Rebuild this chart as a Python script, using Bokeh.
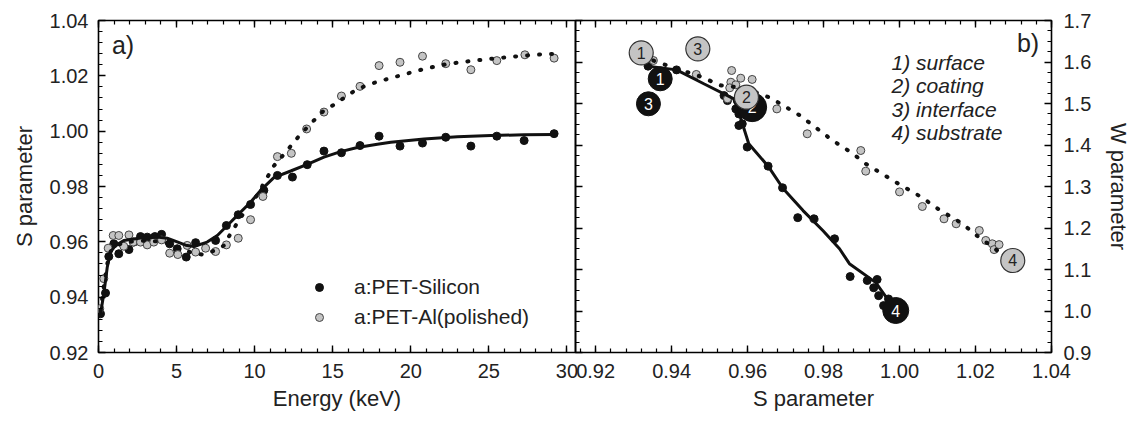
import numpy as np
from bokeh.plotting import figure
from bokeh.models import (LinearAxis, Legend, LegendItem, Label, FixedTicker,
                          Range1d, PrintfTickFormatter)
from bokeh.layouts import row
from bokeh.embed import file_html
from bokeh.resources import INLINE

FONT = "Liberation Sans"
TXT = "#222222"

# ---------------- panel a) : S parameter vs positron energy ----------------
si_E = [0.13, 0.45, 0.66, 0.98, 1.30, 1.95, 2.26, 2.69, 3.12, 3.61, 4.04, 4.56, 5.04, 5.62,
        6.22, 7.50, 8.19, 8.95, 9.74, 10.59, 11.46, 12.42, 13.37, 14.44, 15.56, 16.75,
        17.97, 19.31, 20.75, 22.24, 23.85, 25.51, 27.26, 29.18]
si_S = [0.9340, 0.9415, 0.9547, 0.9593, 0.9557, 0.9572, 0.9599, 0.9619, 0.9617, 0.9619,
        0.9627, 0.9593, 0.9575, 0.9545, 0.9597, 0.9605, 0.9659, 0.9698, 0.9735, 0.9786,
        0.9840, 0.9834, 0.9879, 0.9928, 0.9922, 0.9948, 0.9982, 0.9946, 0.9957, 0.9978,
        0.9946, 0.9982, 0.9966, 0.9991]

al_E = [0.08, 0.34, 0.62, 0.94, 1.30, 1.62, 1.95, 2.22, 2.69, 3.12, 3.54, 4.04, 4.56, 5.08,
        5.68, 6.22, 6.86, 7.50, 8.19, 8.95, 9.74, 10.53, 11.46, 12.35, 13.33, 14.44, 15.56,
        16.75, 17.97, 19.31, 20.75, 22.24, 23.85, 25.51, 27.31, 29.18]
al_S = [0.9358, 0.9467, 0.9577, 0.9623, 0.9623, 0.9584, 0.9625, 0.9599, 0.9599, 0.9589,
        0.9599, 0.9607, 0.9559, 0.9554, 0.9587, 0.9563, 0.9577, 0.9565, 0.9589, 0.9613,
        0.9680, 0.9764, 0.9908, 0.9920, 1.0008, 1.0069, 1.0127, 1.0162, 1.0237, 1.0249,
        1.0271, 1.0244, 1.0222, 1.0255, 1.0276, 1.0264]

fit_si_E = [0.13, 0.34, 0.56, 0.77, 1.09, 1.62, 2.69, 3.75, 4.40, 5.04, 5.58, 6.11, 6.96,
            7.61, 8.25, 8.99, 9.74, 10.38, 11.23, 12.31, 13.37, 14.44, 15.51, 16.58, 17.86,
            18.72, 20.85, 22.99, 25.12, 27.26, 29.18]
fit_si_S = [0.9340, 0.9412, 0.9508, 0.9563, 0.9587, 0.9605, 0.9614, 0.9617, 0.9613, 0.9600,
            0.9588, 0.9583, 0.9599, 0.9623, 0.9659, 0.9701, 0.9743, 0.9786, 0.9832, 0.9856,
            0.9880, 0.9906, 0.9926, 0.9941, 0.9953, 0.9960, 0.9972, 0.9980, 0.9984, 0.9987,
            0.9988]

fit_al_E = [0.13, 0.34, 0.56, 0.77, 1.09, 1.62, 2.69, 3.75, 4.57, 5.28, 5.89, 6.65, 7.17,
            7.71, 8.12, 8.35, 8.57, 8.93, 9.43, 9.95, 10.38, 10.59, 10.92, 11.19, 11.87,
            12.95, 13.80, 14.44, 15.19, 15.94, 16.58, 17.43, 18.72, 20.85, 22.35, 24.06,
            25.77, 27.26, 28.76, 29.22]
fit_al_S = [0.9350, 0.9440, 0.9520, 0.9565, 0.9585, 0.9598, 0.9604, 0.9602, 0.9593, 0.9578,
            0.9562, 0.9554, 0.9563, 0.9575, 0.9590, 0.9619, 0.9641, 0.9671, 0.9716, 0.9752,
            0.9786, 0.9816, 0.9843, 0.9872, 0.9916, 0.9990, 1.0039, 1.0075, 1.0099, 1.0129,
            1.0152, 1.0171, 1.0192, 1.0225, 1.0243, 1.0255, 1.0265, 1.0273, 1.0279, 1.0279]

a_xticks = [0, 5, 10, 15, 20, 25, 30]
a_yticks = [0.92, 0.94, 0.96, 0.98, 1.00, 1.02, 1.04]

# ---------------- panel b) : W parameter vs S parameter ----------------
b_si_S = [0.9338, 0.9413, 0.9538, 0.9547, 0.9573, 0.9569, 0.9577, 0.9586, 0.9577, 0.9599,
          0.9654, 0.9692, 0.9732, 0.9775, 0.9829, 0.9870, 0.9915, 0.9941, 0.9932, 0.9945,
          0.9958, 0.9971]
b_si_W = [1.590, 1.581, 1.519, 1.507, 1.507, 1.487, 1.475, 1.451, 1.447, 1.395, 1.349, 1.297,
          1.225, 1.222, 1.174, 1.083, 1.0735, 1.076, 1.056, 1.037, 1.013, 1.029]

b_al_S = [0.9352, 0.9465, 0.9558, 0.9582, 0.9612, 0.9556, 0.9569, 0.9553, 0.9547, 0.9677,
          0.9757, 0.9898, 0.9911, 1.0000, 1.0060, 1.0117, 1.0149, 1.0210, 1.0227, 1.0244,
          1.0249, 1.0262]
b_al_W = [1.6036, 1.570, 1.5795, 1.561, 1.558, 1.5513, 1.545, 1.5378, 1.5113, 1.487, 1.427,
          1.3867, 1.3369, 1.287, 1.2518, 1.2221, 1.2101, 1.194, 1.170, 1.162, 1.148, 1.160]

fitb_si_S = [0.9338, 0.9413, 0.9486, 0.9564, 0.9580, 0.9603, 0.9654, 0.9694, 0.9746, 0.9798,
             0.9842, 0.9868, 0.9937, 0.9990]
fitb_si_W = [1.590, 1.581, 1.547, 1.511, 1.470, 1.403, 1.349, 1.2945, 1.242, 1.194, 1.150,
             1.114, 1.069, 1.001]

fitb_al_S = [0.9352, 0.9413, 0.9469, 0.9530, 0.9590, 0.9660, 0.9738, 0.9824, 0.9876, 0.9911,
             0.9997, 1.0058, 1.0101, 1.0166, 1.0197, 1.0240, 1.0257]
fitb_al_W = [1.6036, 1.5836, 1.5675, 1.5434, 1.5378, 1.5137, 1.4711, 1.4108, 1.380, 1.3547,
             1.3065, 1.2742, 1.2462, 1.2101, 1.186, 1.1578, 1.1458]

lab_si_S = [0.9370, 0.9612, 0.9339, 0.9990]
lab_si_W = [1.5595, 1.4912, 1.4993, 1.0012]
lab_si_txt = ["1", "2", "3", "4"]
lab_si_size = [24, 29, 24, 26]

lab_al_S = [0.9320, 0.9597, 0.9469, 1.0298]
lab_al_W = [1.6220, 1.5152, 1.6317, 1.1217]
lab_al_txt = ["1", "2", "3", "4"]

legend_txt = ["1) surface", "2) coating", "3) interface", "4) substrate"]

b_xticks = [0.92, 0.94, 0.96, 0.98, 1.00, 1.02, 1.04]
b_yticks = [0.9, 1.0, 1.1, 1.2, 1.3, 1.4, 1.5, 1.6, 1.7]


def style_axis(ax, ticks, minor, fmt=None, labels=True, label_standoff=11):
    ax.ticker = FixedTicker(ticks=ticks, minor_ticks=minor)
    ax.major_tick_in = 7
    ax.major_tick_out = 0
    ax.minor_tick_in = 4
    ax.minor_tick_out = 0
    ax.axis_line_color = None
    ax.major_tick_line_color = "black"
    ax.minor_tick_line_color = "black"
    ax.major_tick_line_width = 1.4
    ax.minor_tick_line_width = 1.2
    ax.major_label_text_font = FONT
    ax.major_label_text_color = TXT
    ax.axis_label_text_font = FONT
    ax.axis_label_text_font_style = "normal"
    ax.axis_label_text_color = TXT
    ax.axis_label_text_font_size = "22px"
    if fmt is not None:
        ax.formatter = PrintfTickFormatter(format=fmt)
    if labels:
        ax.major_label_text_font_size = "20px"
        ax.major_label_standoff = label_standoff
    else:
        # mirror axis: ticks only, labels not drawn
        ax.major_label_text_font_size = "8px"
        ax.major_label_text_color = None
        ax.major_label_standoff = 0
        ax.axis_label = None


a_xminor = list(np.arange(0, 31, 1))
a_yminor = list(np.round(np.arange(0.92, 1.0401, 0.004), 4))
b_xminor = list(np.round(np.arange(0.916, 1.0401, 0.004), 4))
b_yminor = list(np.round(np.arange(0.9, 1.7001, 0.025), 4))

# ---------------- figure a ----------------
p1 = figure(width=595, height=422, x_range=Range1d(0, 30.55), y_range=Range1d(0.92, 1.04),
            output_backend="svg", toolbar_location=None,
            min_border_left=98, min_border_right=20, min_border_top=20, min_border_bottom=70)
p1.grid.visible = False
p1.outline_line_color = "black"
p1.outline_line_width = 1.6
p1.xaxis.axis_label = "Energy (keV)"
p1.yaxis.axis_label = "S parameter"
style_axis(p1.xaxis[0], a_xticks, a_xminor, fmt="%d")
style_axis(p1.yaxis[0], a_yticks, a_yminor, fmt="%.2f", label_standoff=10)
p1.yaxis[0].axis_label_standoff = 10
p1.xaxis[0].axis_label_standoff = 5
top1 = LinearAxis()
style_axis(top1, a_xticks, a_xminor, labels=False)
p1.add_layout(top1, "above")

r_si = p1.scatter(si_E, si_S, size=8, fill_color="#111111", line_color="#111111")
r_al = p1.scatter(al_E, al_S, size=8, fill_color="#c4c4c4", line_color="#444444", line_width=1)
p1.line(fit_si_E, fit_si_S, line_color="#111111", line_width=3)
p1.line(fit_al_E, fit_al_S, line_color="#111111", line_width=4, line_dash="1 11",
        line_cap="round")

legend = Legend(items=[LegendItem(label="a:PET-Silicon", renderers=[r_si]),
                       LegendItem(label="a:PET-Al(polished)", renderers=[r_al])],
                location=(211, 23), orientation="vertical", border_line_color=None,
                background_fill_alpha=0, padding=0, margin=0, spacing=6,
                glyph_width=20, glyph_height=20, label_standoff=25,
                label_text_font=FONT, label_text_font_size="21px", label_text_color=TXT)
p1.add_layout(legend)

p1.add_layout(Label(x=0.86, y=1.0313, text="a)", text_font=FONT, text_font_size="25px",
                    text_color=TXT, text_baseline="middle"))

# ---------------- figure b ----------------
p2 = figure(width=577, height=422, x_range=Range1d(0.9147, 1.04), y_range=Range1d(0.9, 1.7),
            output_backend="svg", toolbar_location=None, y_axis_location="right",
            min_border_left=16, min_border_right=85, min_border_top=20, min_border_bottom=70)
p2.margin = (0, 0, 0, -36)
p2.border_fill_color = None
p2.background_fill_color = None
p2.grid.visible = False
p2.outline_line_color = "black"
p2.outline_line_width = 1.6
p2.xaxis.axis_label = "S parameter"
p2.yaxis.axis_label = "W parameter"
style_axis(p2.xaxis[0], b_xticks, b_xminor, fmt="%.2f")
style_axis(p2.yaxis[0], b_yticks, b_yminor, fmt="%.1f", label_standoff=12)
p2.yaxis[0].axis_label_standoff = 12
p2.xaxis[0].axis_label_standoff = 5
top2 = LinearAxis()
style_axis(top2, b_xticks, b_xminor, labels=False)
p2.add_layout(top2, "above")
left2 = LinearAxis()
style_axis(left2, b_yticks, b_yminor, labels=False)
p2.add_layout(left2, "left")

p2.scatter(b_si_S, b_si_W, size=8, fill_color="#111111", line_color="#111111")
p2.scatter(b_al_S, b_al_W, size=8, fill_color="#c4c4c4", line_color="#444444", line_width=1)
p2.line(fitb_si_S, fitb_si_W, line_color="#111111", line_width=3)
p2.line(fitb_al_S, fitb_al_W, line_color="#111111", line_width=4, line_dash="1 11",
        line_cap="round")

p2.scatter(lab_si_S, lab_si_W, size=lab_si_size, fill_color="#111111", line_color="#111111")
p2.text(lab_si_S, lab_si_W, text=lab_si_txt, text_color="white", text_font_size="16px",
        text_align="center", text_baseline="middle", text_font={"value": FONT})
p2.scatter(lab_al_S, lab_al_W, size=24, fill_color="#c4c4c4", line_color="#333333",
           line_width=1.2)
p2.text(lab_al_S, lab_al_W, text=lab_al_txt, text_color="#222222", text_font_size="16px",
        text_align="center", text_baseline="middle", text_font={"value": FONT})

for i, t in enumerate(legend_txt):
    p2.add_layout(Label(x=0.9979, y=1.5988 - i * 0.0562, text=t, text_font=FONT,
                        text_font_size="21px", text_font_style="italic", text_color=TXT,
                        text_baseline="middle"))
p2.add_layout(Label(x=1.0309, y=1.6446, text="b)", text_font=FONT, text_font_size="25px",
                    text_color=TXT, text_baseline="middle"))

layout = row(p1, p2)
open("out.html", "w").write(file_html(layout, INLINE))
